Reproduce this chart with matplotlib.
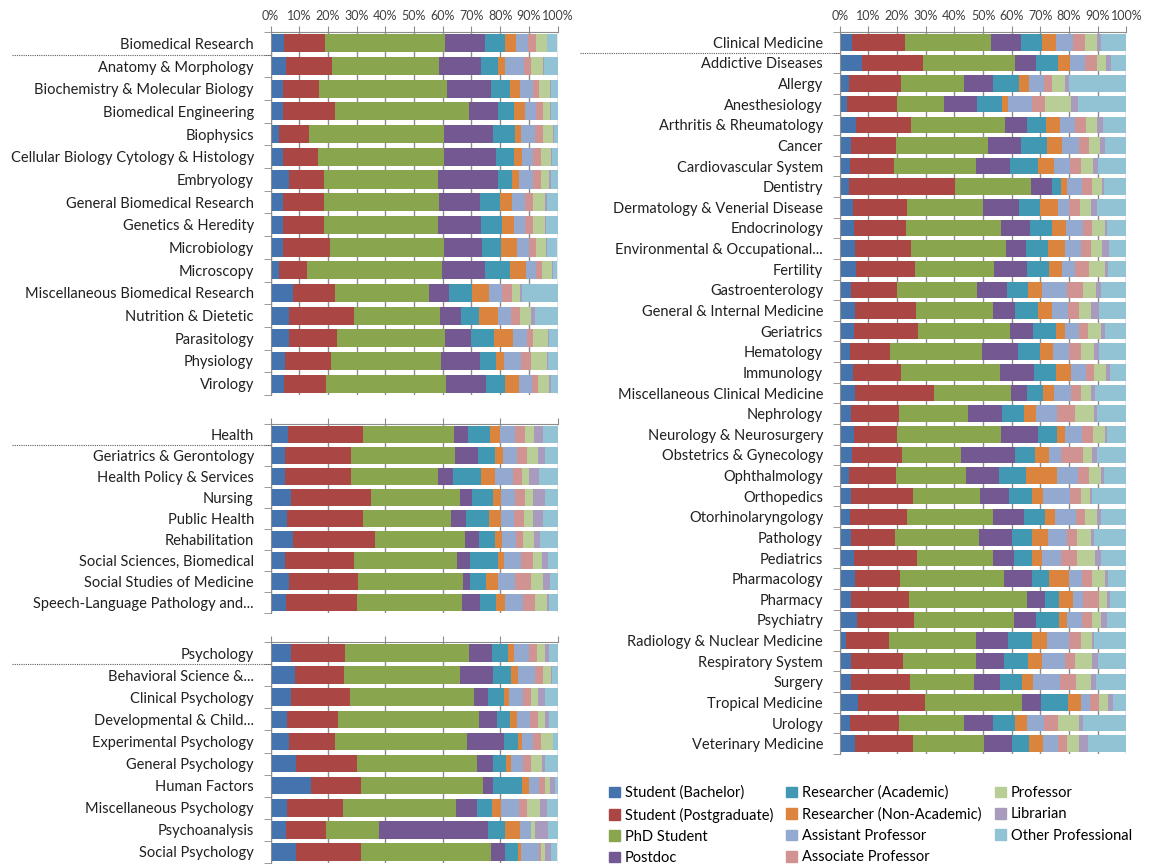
import numpy as np
import matplotlib
matplotlib.use("Agg")
from matplotlib import pyplot as plt
from matplotlib.lines import Line2D
from matplotlib.transforms import blended_transform_factory

plt.rcParams['font.family'] = ['Lato', 'DejaVu Sans']

roles = ["Student (Bachelor)", "Student (Postgraduate)", "PhD Student", "Postdoc",
         "Researcher (Academic)", "Researcher (Non-Academic)", "Assistant Professor",
         "Associate Professor", "Professor", "Librarian", "Other Professional"]
colors = ["#4573AE", "#AA4643", "#89A54E", "#735891", "#4198B2", "#DB843D",
          "#93A9CF", "#D19392", "#B9CD96", "#A99BBD", "#92C3D4"]

# cumulative share (%) at the right edge of each role, last role runs to 100
biomed_labels = ["Biomedical Research", "Anatomy & Morphology", "Biochemistry & Molecular Biology",
                 "Biomedical Engineering", "Biophysics", "Cellular Biology Cytology & Histology",
                 "Embryology", "General Biomedical Research", "Genetics & Heredity", "Microbiology",
                 "Microscopy", "Miscellaneous Biomedical Research", "Nutrition & Dietetic",
                 "Parasitology", "Physiology", "Virology"]
biomed_edges = [
    [4.6, 19.0, 60.9, 74.8, 81.6, 85.5, 89.8, 92.6, 96.2, 96.5],
    [5.5, 21.4, 58.7, 73.3, 79.3, 81.6, 88.2, 90.9, 95.0, 95.4],
    [4.3, 17.0, 61.4, 76.8, 83.5, 87.1, 91.3, 93.6, 97.3, 97.7],
    [4.5, 22.5, 69.3, 79.3, 84.8, 88.6, 92.6, 94.9, 97.3, 97.7],
    [3.1, 13.4, 60.3, 77.5, 85.1, 87.3, 92.2, 95.1, 98.5, 98.8],
    [4.4, 16.4, 60.4, 78.4, 84.8, 87.5, 91.5, 94.1, 97.7, 98.0],
    [6.3, 18.7, 58.2, 79.2, 84.2, 86.6, 91.5, 94.2, 97.2, 97.6],
    [4.4, 18.5, 58.7, 73.1, 80.0, 84.1, 88.7, 91.4, 95.6, 96.3],
    [4.4, 18.5, 58.5, 73.3, 80.8, 84.9, 88.8, 91.5, 95.6, 96.1],
    [4.4, 20.7, 60.6, 73.8, 80.4, 85.8, 89.9, 92.6, 95.9, 96.5],
    [2.9, 12.7, 59.9, 74.8, 83.5, 89.0, 92.6, 94.5, 98.0, 98.5],
    [8.0, 22.5, 55.4, 62.3, 70.2, 76.2, 80.7, 84.0, 86.9, 87.6],
    [6.4, 29.0, 59.0, 66.3, 72.8, 79.4, 83.9, 86.9, 90.7, 92.2],
    [6.4, 23.1, 60.7, 69.9, 77.8, 84.6, 89.2, 91.6, 96.6, 97.1],
    [5.0, 21.1, 59.3, 72.9, 78.6, 81.5, 87.2, 90.9, 96.3, 96.7],
    [4.8, 19.3, 61.0, 75.0, 81.8, 86.6, 91.1, 93.1, 97.0, 97.6],
]

health_labels = ["Health", "Geriatrics & Gerontology", "Health Policy & Services", "Nursing",
                 "Public Health", "Rehabilitation", "Social Sciences, Biomedical",
                 "Social Studies of Medicine", "Speech-Language Pathology and..."]
health_edges = [
    [6.1, 32.4, 63.8, 68.9, 76.5, 80.1, 85.3, 88.6, 91.7, 95.0],
    [4.9, 28.1, 64.4, 72.3, 78.2, 81.0, 86.0, 89.4, 93.1, 95.5],
    [4.9, 27.9, 58.3, 63.7, 73.5, 78.3, 84.5, 87.7, 90.2, 93.7],
    [7.0, 34.9, 66.2, 70.3, 77.4, 80.2, 85.3, 88.8, 91.6, 95.8],
    [5.7, 32.1, 63.0, 68.1, 76.3, 80.2, 85.0, 88.4, 91.6, 94.8],
    [7.8, 36.4, 67.8, 72.6, 78.3, 80.8, 85.6, 88.1, 91.7, 93.9],
    [4.9, 29.0, 65.1, 69.6, 79.3, 81.3, 87.3, 91.5, 94.6, 96.7],
    [6.6, 30.6, 67.1, 69.4, 75.2, 79.4, 85.1, 90.9, 95.1, 97.4],
    [5.4, 30.2, 66.6, 73.1, 78.7, 81.8, 88.1, 92.3, 96.4, 97.1],
]

psych_labels = ["Psychology", "Behavioral Science &...", "Clinical Psychology", "Developmental & Child...",
                "Experimental Psychology", "General Psychology", "Human Factors",
                "Miscellaneous Psychology", "Psychoanalysis", "Social Psychology"]
psych_edges = [
    [7.3, 25.9, 69.0, 77.3, 82.8, 85.0, 89.9, 92.7, 95.7, 97.1],
    [8.4, 25.5, 65.9, 77.7, 83.9, 86.2, 92.0, 94.8, 97.8, 98.1],
    [7.2, 27.7, 71.0, 75.9, 81.4, 83.2, 87.9, 90.6, 93.1, 95.6],
    [5.6, 23.4, 72.6, 78.8, 83.6, 85.9, 90.3, 93.1, 95.7, 96.9],
    [6.3, 22.5, 68.6, 81.4, 86.3, 87.7, 91.6, 94.4, 98.3, 98.6],
    [9.0, 30.0, 71.8, 77.4, 82.2, 83.9, 87.9, 90.8, 94.5, 95.8],
    [14.1, 31.6, 74.2, 77.4, 87.8, 89.9, 93.4, 95.7, 97.4, 99.0],
    [5.6, 25.1, 64.6, 71.9, 77.2, 80.3, 86.6, 89.2, 93.8, 96.4],
    [5.5, 19.5, 37.8, 75.8, 81.6, 87.1, 90.6, 90.9, 92.1, 96.6],
    [9.0, 31.4, 76.7, 81.8, 86.2, 87.3, 93.6, 94.3, 95.8, 97.8],
]

clin_labels = ["Clinical Medicine", "Addictive Diseases", "Allergy", "Anesthesiology",
               "Arthritis & Rheumatology", "Cancer", "Cardiovascular System", "Dentistry",
               "Dermatology & Venerial Disease", "Endocrinology", "Environmental & Occupational...",
               "Fertility", "Gastroenterology", "General & Internal Medicine", "Geriatrics",
               "Hematology", "Immunology", "Miscellaneous Clinical Medicine", "Nephrology",
               "Neurology & Neurosurgery", "Obstetrics & Gynecology", "Ophthalmology",
               "Orthopedics", "Otorhinolaryngology", "Pathology", "Pediatrics", "Pharmacology",
               "Pharmacy", "Psychiatry", "Radiology & Nuclear Medicine", "Respiratory System",
               "Surgery", "Tropical Medicine", "Urology", "Veterinary Medicine"]
clin_edges = [
    [4.4, 22.7, 52.7, 63.3, 70.6, 75.3, 81.5, 85.6, 89.8, 91.0],
    [7.7, 29.1, 61.3, 68.3, 76.3, 80.2, 85.6, 89.8, 92.8, 94.7],
    [3.1, 21.4, 43.5, 53.5, 62.6, 66.0, 71.4, 74.2, 78.6, 80.1],
    [2.7, 20.0, 36.5, 47.8, 56.7, 58.8, 66.9, 71.5, 80.7, 83.1],
    [5.6, 24.7, 57.6, 65.3, 72.1, 76.9, 81.9, 85.9, 89.8, 91.7],
    [4.0, 19.7, 51.7, 63.4, 72.4, 77.7, 83.6, 87.0, 90.7, 92.6],
    [3.7, 19.0, 47.6, 59.5, 69.0, 74.9, 80.3, 84.3, 88.4, 90.0],
    [3.4, 40.3, 66.7, 74.0, 77.3, 79.3, 84.4, 88.1, 91.6, 92.2],
    [4.8, 23.3, 50.1, 62.7, 69.8, 76.2, 80.1, 83.8, 87.8, 89.8],
    [5.0, 23.0, 56.3, 66.3, 74.0, 79.1, 84.7, 88.1, 92.4, 93.3],
    [5.2, 24.8, 57.9, 64.9, 72.6, 78.6, 84.0, 87.7, 91.5, 94.0],
    [5.6, 26.4, 53.8, 65.5, 73.1, 77.7, 82.2, 87.0, 92.7, 93.6],
    [4.1, 20.0, 47.9, 58.5, 65.8, 70.6, 79.2, 84.9, 89.5, 91.2],
    [5.5, 26.6, 53.4, 61.3, 69.3, 74.1, 79.8, 83.6, 87.7, 90.5],
    [4.9, 27.3, 59.4, 67.4, 75.3, 78.7, 83.6, 86.6, 91.2, 92.7],
    [3.7, 17.7, 49.8, 62.2, 70.0, 74.5, 79.9, 84.0, 88.8, 90.3],
    [4.5, 21.4, 55.8, 67.9, 75.6, 80.7, 85.8, 88.8, 92.9, 94.2],
    [5.5, 33.0, 59.9, 65.5, 71.0, 74.9, 80.8, 84.1, 87.6, 89.1],
    [4.0, 20.7, 44.8, 56.7, 64.4, 68.6, 75.7, 81.9, 88.7, 89.8],
    [5.0, 20.1, 56.3, 69.3, 75.9, 78.7, 84.4, 88.2, 92.4, 93.1],
    [4.4, 21.6, 42.2, 61.0, 68.1, 73.1, 77.1, 84.9, 88.1, 89.9],
    [3.1, 19.8, 44.2, 55.7, 65.1, 75.9, 83.0, 87.0, 91.2, 92.2],
    [3.8, 25.6, 48.8, 59.1, 67.1, 70.9, 80.3, 84.0, 87.4, 88.0],
    [3.5, 23.3, 53.6, 64.4, 71.6, 75.2, 82.3, 85.5, 89.8, 91.2],
    [4.1, 19.3, 48.7, 60.2, 67.1, 72.6, 79.2, 82.8, 87.7, 88.6],
    [4.9, 27.1, 53.6, 60.8, 66.9, 70.5, 77.3, 82.9, 89.0, 91.0],
    [5.3, 21.2, 57.3, 66.9, 73.1, 79.9, 84.4, 88.1, 92.7, 93.6],
    [4.0, 24.3, 65.5, 71.6, 76.6, 81.4, 85.0, 90.5, 93.3, 94.4],
    [6.2, 26.0, 60.9, 68.3, 76.4, 79.2, 84.5, 88.1, 91.2, 93.1],
    [2.3, 17.3, 47.6, 58.8, 66.9, 72.2, 80.1, 84.2, 87.9, 88.7],
    [3.8, 22.0, 47.6, 57.2, 65.7, 70.7, 78.5, 82.0, 88.1, 90.1],
    [4.1, 24.4, 46.7, 55.9, 63.5, 67.4, 77.0, 82.4, 87.8, 89.4],
    [6.3, 29.7, 63.7, 70.3, 79.7, 84.0, 87.4, 90.3, 93.6, 95.3],
    [3.7, 20.8, 43.5, 53.5, 61.3, 65.5, 71.2, 76.2, 83.3, 84.9],
    [5.3, 25.5, 50.3, 60.1, 66.0, 70.8, 76.0, 79.3, 83.6, 86.5],
]

W, H = 1152, 867
fig = plt.figure(figsize=(W / 100, H / 100), dpi=100)
grid_col = "#8C8C8C"


def panel(rect, labels, edges, step, show_labels, sep_x0):
    ax = fig.add_axes(rect)
    cum = np.array(edges)
    starts = np.hstack([np.zeros((len(cum), 1)), cum])
    widths = np.diff(np.hstack([starts, np.full((len(cum), 1), 100.0)]), axis=1)
    y = np.arange(len(labels))
    for j, c in enumerate(colors):
        ax.barh(y, widths[:, j], left=starts[:, j], height=0.8, color=c, linewidth=0, zorder=2)
    ax.set_xlim(0, 100)
    ax.set_ylim(len(labels) - 0.5, -0.5)
    ax.set_xticks(np.arange(0, 101, step))
    ax.xaxis.tick_top()
    if show_labels:
        ax.set_xticklabels([f"{v}%" for v in range(0, 101, step)], fontsize=9, color="#404040")
    else:
        ax.set_xticklabels([])
    ax.tick_params(axis="x", length=4, color=grid_col, pad=3)
    ax.grid(axis="x", color=grid_col, lw=1, zorder=0)
    ax.set_yticks(y)
    ax.set_yticklabels(labels, fontsize=10.5, color="#202020")
    ax.tick_params(axis="y", length=0, pad=12)
    ax.set_yticks(np.arange(len(labels) + 1) - 0.5, minor=True)
    ax.tick_params(axis="y", which="minor", length=5, color=grid_col)
    for s in ["right", "bottom"]:
        ax.spines[s].set_visible(False)
    for s in ["left", "top"]:
        ax.spines[s].set_color(grid_col)
    # dotted separator under the group header
    tr = blended_transform_factory(fig.transFigure, ax.transData)
    ax.add_line(Line2D([sep_x0 / W, rect[0]], [0.5, 0.5], transform=tr, color="#606060",
                       lw=0.8, ls=(0, (1, 1)), clip_on=False))
    return ax


lx, lw_ = 270.5 / W, 287 / W
rx, rw = 839.7 / W, 286.7 / W
panel([lx, 1 - 395 / H, lw_, 363 / H], biomed_labels, biomed_edges, 10, True, 12)
panel([lx, 1 - 613 / H, lw_, 189 / H], health_labels, health_edges, 20, False, 12)
panel([lx, 1 - 863 / H, lw_, 221 / H], psych_labels, psych_edges, 20, False, 12)
panel([rx, 1 - 754 / H, rw, 722 / H], clin_labels, clin_edges, 10, True, 580)

handles = [plt.Rectangle((0, 0), 1, 1, color=c) for c in colors]
fig.legend(handles, roles, loc="upper left", bbox_to_anchor=(603 / W, 1 - 780 / H),
           ncol=3, frameon=False, fontsize=10.5, handlelength=0.75, handleheight=0.75,
           handletextpad=0.35, columnspacing=0.9, labelspacing=0.5, borderaxespad=0)

plt.savefig("out.png", dpi=100)
plt.close()
